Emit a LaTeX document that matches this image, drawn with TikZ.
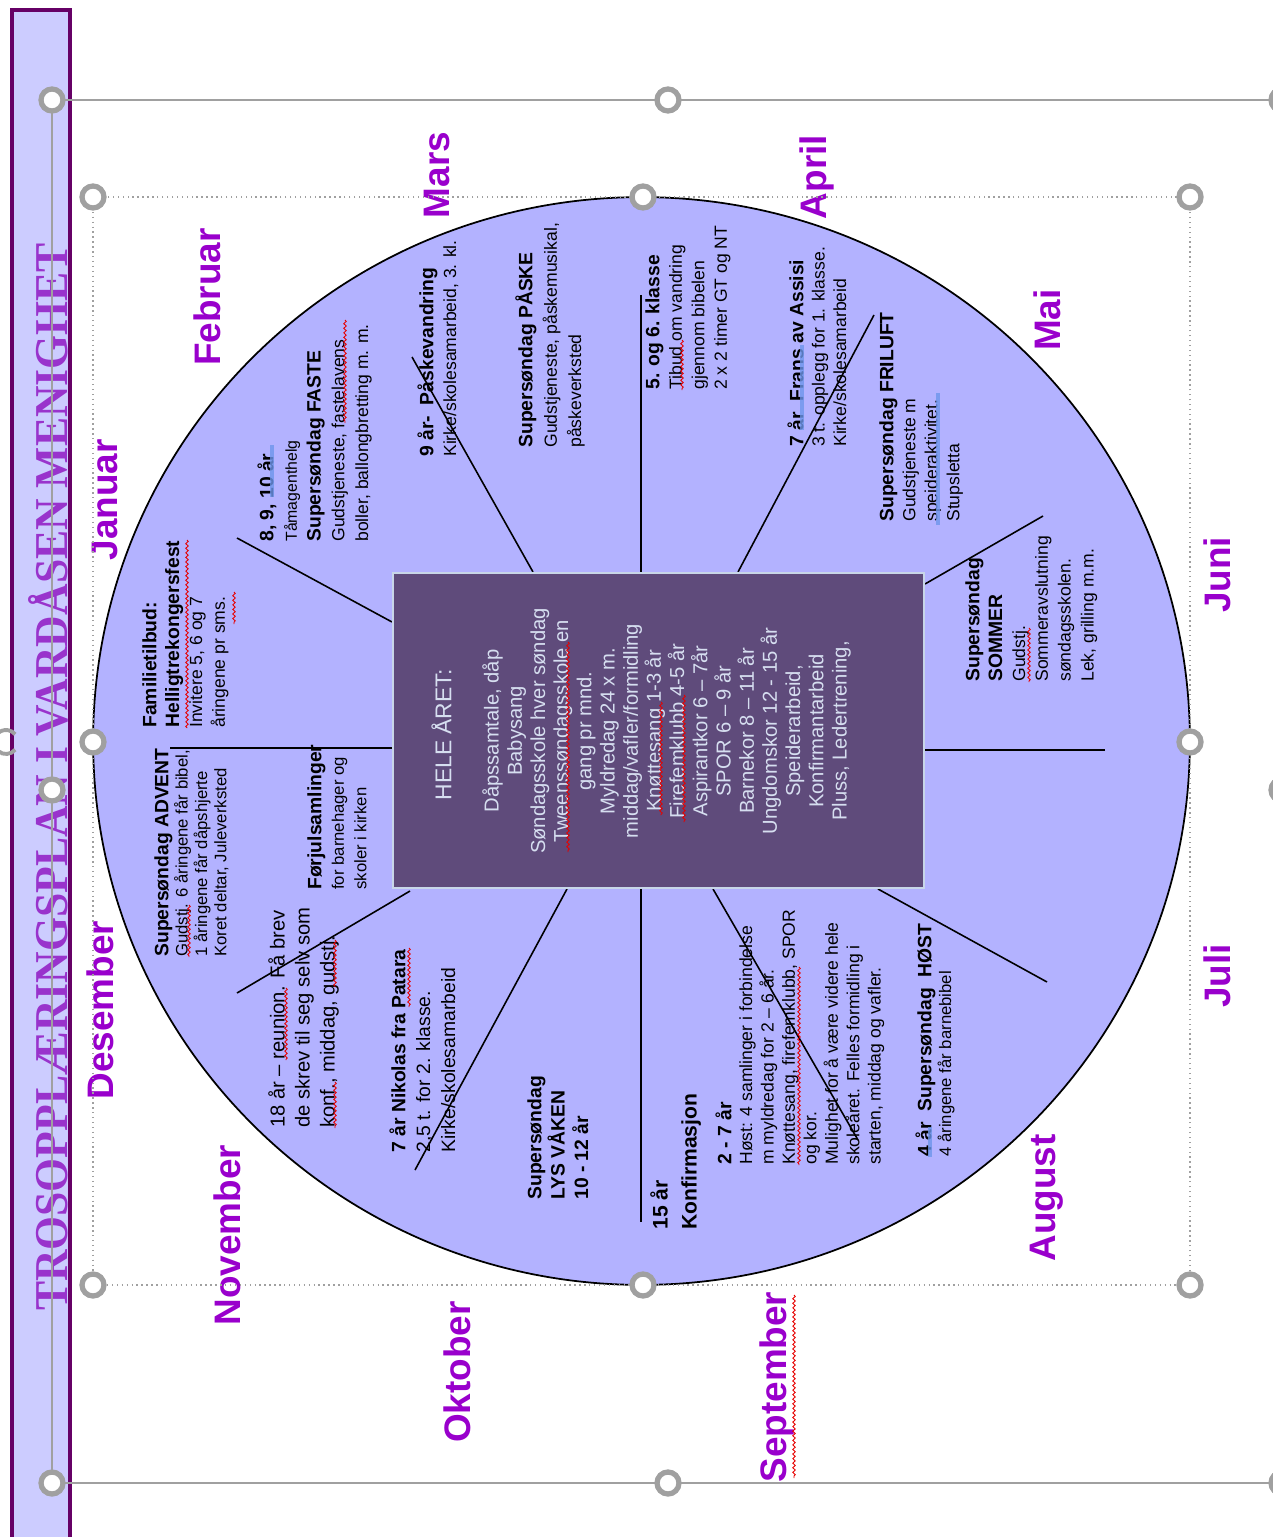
\documentclass[tikz,border=0pt]{standalone}
\usepackage{fontspec}
\setmainfont{Liberation Sans}
\newfontfamily\titlefont{Liberation Serif}
\usepackage{graphicx}
\usepackage{tikz}
\usetikzlibrary{shapes.geometric}
\usetikzlibrary{decorations.pathmorphing}

\definecolor{wheelfill}{RGB}{179,178,255}
\definecolor{yearfill}{RGB}{95,75,123}
\definecolor{yearedge}{RGB}{200,214,232}
\definecolor{yeartext}{RGB}{214,222,240}
\definecolor{monthcol}{RGB}{153,0,204}
\definecolor{barfill}{RGB}{204,204,255}
\definecolor{barline}{RGB}{102,0,102}
\definecolor{titlecol}{RGB}{153,51,204}
\definecolor{gripgray}{RGB}{160,160,160}
\definecolor{spellred}{RGB}{230,0,0}
\definecolor{grammarblue}{RGB}{110,150,235}

\newcommand{\blkhd}[1]{{\fontsize{11}{11}\selectfont\bfseries #1}}

\begin{document}
\begin{tikzpicture}[x=0.02cm, y=-0.02cm,
	month/.style={rotate=90, text=monthcol, inner sep=0, font=\fontsize{21}{24}\selectfont\bfseries},
	block/.style={rotate=90, anchor=north west, align=left, inner sep=0},
	spoke/.style={line width=0.9pt},
	grip/.style={circle, draw=gripgray, fill=white, line width=3pt, minimum size=0.44cm, inner sep=0},
	selline/.style={draw=gripgray, line width=1.1pt},
	selbox/.style={draw=gripgray, line width=0.8pt, dotted},
	spell/.style={draw=spellred, line width=0.5pt, decorate, decoration={snake, amplitude=0.7pt, segment length=2.6pt}},
	grammar/.style={draw=grammarblue, line width=1.8pt, opacity=0.8}]

	\useasboundingbox (0,0) rectangle (1273,1537);
	\clip (0,0) rectangle (1273,1537);

	\draw[barline, line width=2.2pt, fill=barfill] (12,10) rectangle (70,1560);
	\node[rotate=90, text=titlecol, inner sep=0] (title) at (48,777) {\resizebox{21.36cm}{0.78cm}{\titlefont\bfseries TROSOPPLÆRINGSPLAN I VARDÅSEN MENIGHET}};

	\node[ellipse, draw, line width=1pt, fill=wheelfill, minimum width=21.94cm, minimum height=21.76cm, inner sep=0] (wheel) at (641.5,741) {};

	\coordinate (s1a) at (237,538);  \coordinate (s1b) at (392,622);
	\coordinate (s2a) at (412,357);  \coordinate (s2b) at (533,572);
	\coordinate (s3a) at (641,295);  \coordinate (s3b) at (641,572);
	\coordinate (s4a) at (874,315);  \coordinate (s4b) at (738,572);
	\coordinate (s5a) at (1043,516); \coordinate (s5b) at (925,584);
	\coordinate (s6a) at (1105,750); \coordinate (s6b) at (925,750);
	\coordinate (s7a) at (1047,982); \coordinate (s7b) at (878,889);
	\coordinate (s8a) at (858,1140); \coordinate (s8b) at (713,889);
	\coordinate (s9a) at (641,1222); \coordinate (s9b) at (641,889);
	\coordinate (s10a) at (415,1170); \coordinate (s10b) at (567,889);
	\coordinate (s11a) at (237,993); \coordinate (s11b) at (410,891);
	\coordinate (s12a) at (170,748); \coordinate (s12b) at (393,748);

	\draw[spoke] (s1a) -- (s1b);
	\draw[spoke] (s2a) -- (s2b);
	\draw[spoke] (s3a) -- (s3b);
	\draw[spoke] (s4a) -- (s4b);
	\draw[spoke] (s5a) -- (s5b);
	\draw[spoke] (s6a) -- (s6b);
	\draw[spoke] (s7a) -- (s7b);
	\draw[spoke] (s8a) -- (s8b);
	\draw[spoke] (s9a) -- (s9b);
	\draw[spoke] (s10a) -- (s10b);
	\draw[spoke] (s11a) -- (s11b);
	\draw[spoke] (s12a) -- (s12b);

	\node[draw=yearedge, line width=0.8pt, fill=yearfill, minimum width=10.62cm, minimum height=6.3cm, inner sep=0] (year) at (658.5,730.5) {};
	\node[rotate=90, anchor=north, inner sep=0, text=yeartext, font=\fontsize{13}{15}\selectfont] (hele) at (431,735) {HELE ÅRET:};
	\node[rotate=90, anchor=north, align=center, inner sep=0, text=yeartext, font=\fontsize{11.5}{13.2}\selectfont] (helelist) at (482,731) {Dåpssamtale, dåp\\ Babysang\\ Søndagsskole hver søndag\\ Tweenssøndagsskole en\\ gang pr mnd.\\ Myldredag 24 x m.\\ middag/vafler/formidling\\ Knøttesang 1-3 år\\ Firefemklubb 4-5 år\\ Aspirantkor 6 – 7år\\ SPOR 6 – 9 år\\ Barnekor 8 – 11 år\\ Ungdomskor 12 - 15 år\\ Speiderarbeid,\\ Konfirmantarbeid\\ Pluss, Ledertrening,};

	\node[month] (jan) at (105,500) {Januar};
	\node[month] (feb) at (207,297) {Februar};
	\node[month] (mar) at (437,175) {Mars};
	\node[month] (apr) at (817,177) {April};
	\node[month] (mai) at (1047,320) {Mai};
	\node[month] (jun) at (1217,575) {Juni};
	\node[month] (jul) at (1217,976) {Juli};
	\node[month] (aug) at (1047,1198) {August};
	\node[month] (sep) at (777,1387) {September};
	\node[month] (okt) at (457,1372) {Oktober};
	\node[month] (nov) at (227,1235) {November};
	\node[month] (des) at (100,1010) {Desember};

	\node[block, font=\fontsize{10}{13}\selectfont] (familie) at (142,728) {\blkhd{Familietilbud:}\\ \blkhd{Helligtrekongersfest}\\ Invitere 5, 6 og 7\\ åringene pr sms.};
	\node[block, font=\fontsize{10}{13.5}\selectfont] (faste) at (257,542) {\blkhd{8, 9, 10 år}\\ {\fontsize{9}{9}\selectfont Tåmagenthelg}\\ \blkhd{Supersøndag FASTE}\\ Gudstjeneste, fastelavens\\ boller, ballongbretting m. m.};
	\node[block, font=\fontsize{10}{13}\selectfont] (paaskevandring) at (417,457) {\blkhd{9 år-\ \ Påskevandring}\\ Kirke/skolesamarbeid, 3. kl.};
	\node[block, font=\fontsize{10}{13.9}\selectfont] (paaske) at (515,448) {\blkhd{Supersøndag PÅSKE}\\ Gudstjeneste, påskemusikal,\\ påskeverksted};
	\node[block, font=\fontsize{10}{12.8}\selectfont] (klasse) at (645,390) {\blkhd{5. og 6. klasse}\\ Tibud om vandring\\ gjennom bibelen\\ 2 x 2 timer GT og NT};
	\node[block, font=\fontsize{10}{12.2}\selectfont] (frans) at (787,447) {\blkhd{7 år\ \ Frans av Assisi}\\ 3 t. opplegg for 1. klasse.\\ Kirke/skolesamarbeid};
	\node[block, font=\fontsize{10}{12.5}\selectfont] (friluft) at (879,522) {\blkhd{Supersøndag FRILUFT}\\ Gudstjeneste m\\ speideraktivitet.\\ Stupsletta};
	\node[block, font=\fontsize{10}{13}\selectfont] (sommer) at (965,682) {\blkhd{Supersøndag}\\ \blkhd{SOMMER}\\ Gudstj.\\ Sommeravslutning\\ søndagsskolen.\\ Lek, grilling m.m.};
	\node[block, font=\fontsize{9.5}{11}\selectfont] (advent) at (154,957) {\blkhd{Supersøndag ADVENT}\\ Gudstj. 6 åringene får bibel,\\ 1 åringene får dåpshjerte\\ Koret deltar, Juleverksted};
	\node[block, font=\fontsize{9.5}{12.8}\selectfont] (forjul) at (307,890) {\blkhd{Førjulsamlinger}\\ for barnehager og\\ skoler i kirken};
	\node[block, font=\fontsize{11.5}{14.2}\selectfont] (reunion) at (268,1128) {18 år – reunion. Få brev\\ de skrev til seg selv som\\ konf., middag, gudstj.};
	\node[block, font=\fontsize{11}{14.2}\selectfont] (nikolas) at (389,1153) {\blkhd{7 år Nikolas fra Patara}\\ 2,5 t. for 2. klasse.\\ Kirke/skolesamarbeid};
	\node[block, font=\fontsize{11}{13.3}\selectfont\bfseries] (lysvaaken) at (527,1200) {Supersøndag\\ LYS VÅKEN\\ 10 - 12 år};
	\node[block, font=\fontsize{12}{16.4}\selectfont\bfseries] (konf) at (650,1230) {15 år\\ Konfirmasjon};
	\node[block, font=\fontsize{11}{13.6}\selectfont\bfseries] (smaa) at (715,1165) {2 - 7 år};
	\node[block, font=\fontsize{10}{12.2}\selectfont] (smaatext) at (739,1165) {Høst: 4 samlinger i forbindelse\\ m myldredag for 2 – 6 år.\\ Knøttesang, firefemklubb, SPOR\\ og kor.\\ Mulighet for å være videre hele\\ skoleåret. Felles formidling i\\ starten, middag og vafler.};
	\node[block, font=\fontsize{9.5}{11.3}\selectfont] (host) at (915,1157) {\blkhd{4 år\ \ Supersøndag\ \ HØST}\\ 4 åringene får barnebibel};

	\draw[spell] (187,540) -- (187,728);
	\draw[spell] (234,592) -- (234,624);
	\draw[spell] (345,320) -- (345,423);
	\draw[spell] (682,340) -- (682,390);
	\draw[spell] (568,642) -- (568,852);
	\draw[spell] (661,702) -- (661,815);
	\draw[spell] (684,695) -- (684,822);
	\draw[spell] (189,905) -- (189,957);
	\draw[spell] (286,988) -- (286,1060);
	\draw[spell] (335,940) -- (335,987);
	\draw[spell] (335,1082) -- (335,1128);
	\draw[spell] (409,948) -- (409,1007);
	\draw[spell] (799,967) -- (799,1165);
	\draw[spell] (1029,628) -- (1029,682);
	\draw[spell] (794,1295) -- (794,1478);

	\draw[grammar] (272,445) -- (272,497);
	\draw[grammar] (802,345) -- (802,430);
	\draw[grammar] (938,393) -- (938,525);
	\draw[grammar] (930,1127) -- (930,1157);

	\draw[selbox] (93,197) rectangle (1190,1285);
	\draw[selline] (52,100) -- (1290,100);
	\draw[selline] (52,1483) -- (1290,1483);
	\draw[selline] (52,100) -- (52,1483);
	\draw[gripgray, line width=2.2pt] (6,742) ++(40:12) arc[start angle=40, end angle=320, radius=12];

	\node[grip] (o1) at (52,100) {};
	\node[grip] (o2) at (668,100) {};
	\node[grip] (o3) at (1282,100) {};
	\node[grip] (o4) at (52,790) {};
	\node[grip] (o5) at (1282,790) {};
	\node[grip] (o6) at (52,1483) {};
	\node[grip] (o7) at (668,1483) {};
	\node[grip] (o8) at (1282,1483) {};
	\node[grip] (i1) at (93,197) {};
	\node[grip] (i2) at (643,197) {};
	\node[grip] (i3) at (1190,197) {};
	\node[grip] (i4) at (93,742) {};
	\node[grip] (i5) at (1190,742) {};
	\node[grip] (i6) at (93,1285) {};
	\node[grip] (i7) at (643,1285) {};
	\node[grip] (i8) at (1190,1285) {};
\end{tikzpicture}
\end{document}
